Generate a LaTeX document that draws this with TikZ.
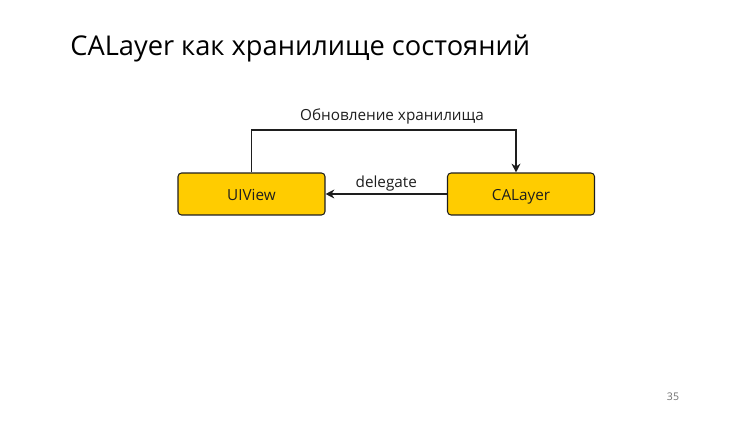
\documentclass[tikz,border=0pt]{standalone}
\usepackage{fontspec}
\setmainfont{Open Sans}
\usetikzlibrary{arrows.meta,positioning}
\definecolor{BoxYellow}{RGB}{255,204,0}
\definecolor{TextDark}{RGB}{30,30,30}
\definecolor{PageGray}{RGB}{110,110,110}

\begin{document}
\begin{tikzpicture}[x=0.02cm, y=-0.02cm,
  box/.style={draw=TextDark, fill=BoxYellow, rounded corners=2pt, line width=0.6pt,
    minimum width=2.94cm, minimum height=0.84cm, text=TextDark,
    text height=1.6ex, text depth=0.2ex,
    font=\fontsize{8.7}{10}\selectfont},
  link/.style={line width=1.1pt, TextDark, -{Stealth[length=5pt,width=5pt]}},
  lbl/.style={text=TextDark, font=\fontsize{8.7}{10}\selectfont}]
  \useasboundingbox (0,0) rectangle (750,422);

  % Title
  \node[anchor=base west, inner sep=0pt, text=black, font=\fontsize{15.5}{18}\selectfont]
    (title) at (70,56) {CALayer как хранилище состояний};

  % Boxes
  \node[box] (uiview) at (251.5,194) {UIView};
  \node[box] (calayer) at (521,194) {CALayer};

  % delegate
  \draw[link] (calayer) -- (uiview) node[lbl, midway, above=-2pt] (dlg) {delegate};

  % update loop
  \coordinate (turn) at (516,130);
  \draw[link] (uiview.north) |- (turn) -- (turn |- calayer.north);
  \node[lbl, anchor=base] (upd) at (392,121) {Обновление хранилища};

  % Page number
  \node[text=PageGray, font=\fontsize{6}{7}\selectfont] (page) at (673,397) {35};
\end{tikzpicture}
\end{document}
